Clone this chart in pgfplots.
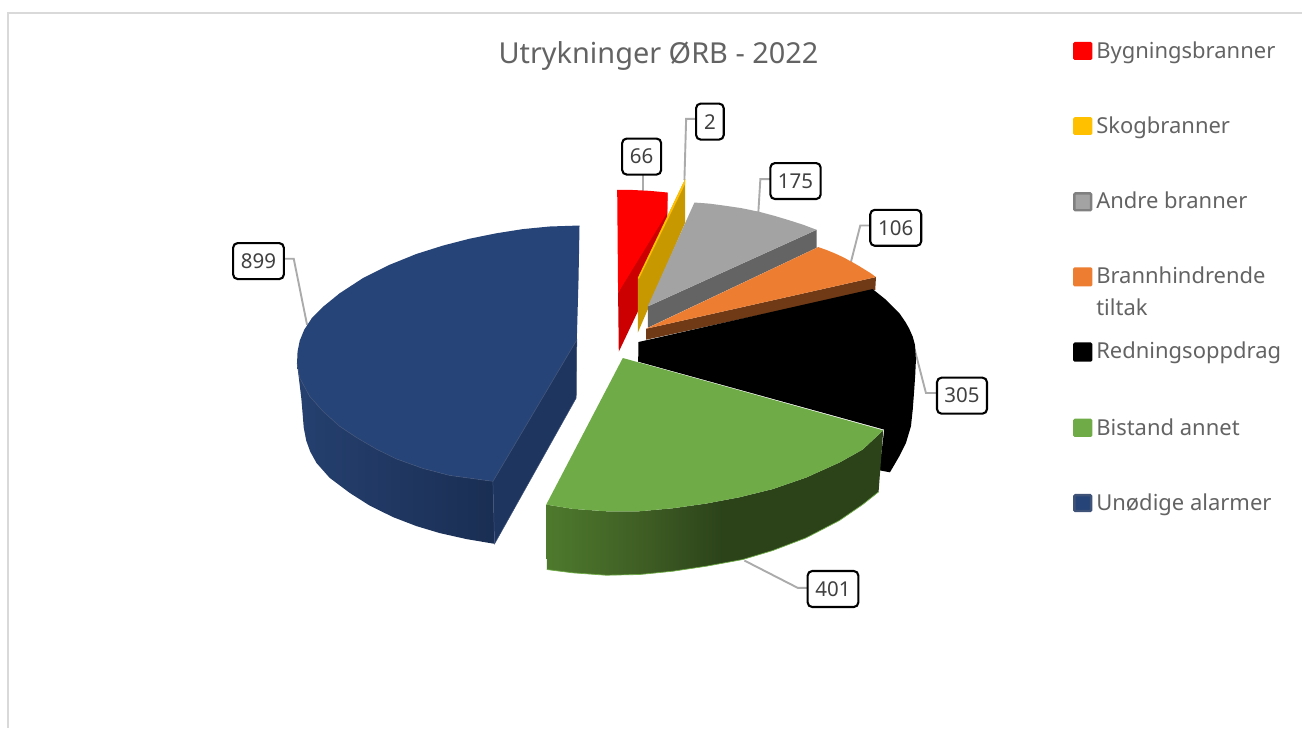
\documentclass[border=0pt]{standalone}
\usepackage{pgfplots}
\pgfplotsset{compat=1.18}
\usepackage{fontspec}
\setmainfont{Noto Sans}
\definecolor{txt}{HTML}{636363}
\definecolor{frame}{HTML}{D9D9D9}
\definecolor{lead}{HTML}{ABABAB}
\definecolor{cRed}{HTML}{FF0000}
\definecolor{cRedD}{HTML}{CC0000}
\definecolor{cYel}{HTML}{FFC000}
\definecolor{cYelD}{HTML}{C89800}
\definecolor{cGry}{HTML}{A3A3A3}
\definecolor{cGryD}{HTML}{646464}
\definecolor{cOra}{HTML}{ED7D31}
\definecolor{cOraD}{HTML}{713A16}
\definecolor{cGrn}{HTML}{6FAC47}
\definecolor{cGrnL}{HTML}{4E7A2D}
\definecolor{cGrnM}{HTML}{3F5E24}
\definecolor{cGrnD}{HTML}{2C431A}
\definecolor{cBlu}{HTML}{264478}
\definecolor{cBluL}{HTML}{25406F}
\definecolor{cBluD}{HTML}{1A2E53}
\definecolor{cBluC}{HTML}{1D355F}
\definecolor{cBluE}{HTML}{3F5278}
\pgfdeclarehorizontalshading{grnside}{100bp}{color(0bp)=(cGrnL); color(25bp)=(cGrnL); color(39bp)=(cGrnM); color(51bp)=(cGrnD); color(100bp)=(cGrnD)}
\tikzset{
  val/.style={draw=black,fill=white,line width=2.1bp,rounded corners=4.5bp,inner sep=0pt,
    minimum height=36bp,text=black!75,font=\fontsize{20.5bp}{23bp}\selectfont},
  leg/.style={anchor=base west,inner sep=0pt,text=txt,font=\fontsize{22bp}{24bp}\selectfont},
  ldr/.style={draw=lead,line width=1.9bp},
}
\begin{document}
\begin{tikzpicture}
\begin{axis}[scale only axis,width=1303bp,height=729bp,xmin=0,xmax=1303,ymin=0,ymax=729,
  y dir=reverse,hide axis,clip=false]
% frame
\addplot[draw=frame,line width=2.2bp] coordinates {(8.3,729) (8.3,13.3) (1303,13.3)};
% leader lines
\addplot[ldr] coordinates {(643.3,175) (643.3,192)};
\addplot[ldr] coordinates {(696.7,119) (686.7,119) (685,180)};
\addplot[ldr] coordinates {(771,179.3) (761,179.3) (759,212)};
\addplot[ldr] coordinates {(871,225.7) (861,225.7) (851.7,262)};
\addplot[ldr] coordinates {(915,348) (926.7,393.3) (938,393.3)};
\addplot[ldr] coordinates {(745,561) (798.3,588.3) (808.3,588.3)};
\addplot[ldr] coordinates {(284,259) (294,259) (307.3,325)};
% Bygningsbranner
\addplot[fill=cRedD,draw=none] coordinates {(668,193) (667.7,250) (619.3,352) (618.6,293)} --cycle;
\addplot[fill=cRed,draw=none] coordinates {(617.7,190) (630,190) (650,191) (668.3,192.7) (667.7,213) (618.6,293)} --cycle;
% Skogbranner
\addplot[fill=cYelD,draw=none] coordinates {(685.7,179.3) (685.7,223) (638.3,333) (638.3,278.3)} --cycle;
\addplot[fill=cYel,draw=none] coordinates {(685.7,179.3) (685.7,184) (639.5,279) (638.3,278.3)} --cycle;
% Andre branner
\addplot[fill=cGryD,draw=none] coordinates {(817.3,230) (817.3,248) (648.3,328) (648.3,306.7)} --cycle;
\addplot[fill=cGry,draw=none] coordinates {(695,202.7) (710,203.8) (725,205.8) (742,208.3) (760,212) (775,216) (790,220.5) (804,225) (817.3,230) (648.3,306.7)} --cycle;
% Brannhindrende tiltak
\addplot[fill=cOraD,draw=none] coordinates {(876.7,277.3) (876,290) (646.7,340) (646.7,329)} --cycle;
\addplot[fill=cOra,draw=none] coordinates {(819,247.3) (828,250.5) (836,253.8) (844,257.5) (851.7,261.7) (858.5,265.5) (865,269.5) (871,273.2) (876.7,277.3) (646.7,329)} --cycle;
% Redningsoppdrag
\addplot[fill=black,draw=none] coordinates {(639,342.3) (873.3,289.3) (886.7,300) (900,313.3) (906,322) (910,329) (913.5,337) (915.7,345) (916.7,360) (916,375) (915,390) (913.5,410) (911.7,426.7) (906.7,443.3) (900,456.7) (890.7,472.7) (880,470.7) (885,430) (638.7,362)} --cycle;
% Bistand annet
\addplot[shade,shading=grnside,draw=none] coordinates {(546.7,505) (573.3,509.3) (606.7,511.7) (640,511.7) (673.3,508.7) (706.7,504) (740,497.7) (773.3,489.5) (806.7,478) (840,463) (863.3,450) (884,430.7) (879.3,492.3) (863.3,505) (840,521) (806.7,538.3) (773.3,551) (743.3,560) (706.7,566.7) (673.3,571.7) (640,575) (606.7,575.7) (573.3,573.3) (547.3,570)} --cycle;
\addplot[draw=cGrn,line width=.7bp] coordinates {(879.3,492.3) (863.3,505) (840,521) (806.7,538.3) (773.3,551) (743.3,560) (706.7,566.7) (673.3,571.7) (640,575) (606.7,575.7) (573.3,573.3) (547.3,570)};
\addplot[fill=cGrn,draw=none] coordinates {(623.3,358.3) (884,430.7) (863.3,450) (840,463) (806.7,478) (773.3,489.5) (740,497.7) (706.7,504) (673.3,508.7) (640,511.7) (606.7,511.7) (573.3,509.3) (546.7,505)} --cycle;
% Unodige alarmer
\addplot[left color=cBluL,right color=cBluD,draw=none] coordinates {(297.3,363.3) (300,378.3) (310,396.7) (323.3,411.7) (340,426.7) (356.7,437.8) (376.7,449.5) (396.7,459.3) (423.3,468.8) (450,475.8) (493.3,481.7) (495,544.3) (466.7,539.5) (440,533.5) (416.7,526.5) (393.3,517.5) (370,506) (350,493.3) (330,478.3) (316.7,463.3) (310.5,452) (306.5,441) (304,428) (301.7,400)} --cycle;
\addplot[fill=cBluC,draw=cBluE,line width=.5bp] coordinates {(493.3,481.7) (577.3,340) (576.7,398.3) (495,544.3)} --cycle;
\addplot[fill=cBlu,draw=none] coordinates {(580,225.7) (550,226.7) (523.3,229.3) (496.7,233.5) (470,238.9) (443.3,245.8) (416.7,254.2) (390,265) (363.3,278.3) (340,293.5) (324,306.5) (312,318.5) (304.5,330) (300,341) (297.8,352) (297.3,363.3) (300,378.3) (310,396.7) (323.3,411.7) (340,426.7) (356.7,437.8) (376.7,449.5) (396.7,459.3) (423.3,468.8) (450,475.8) (493.3,481.7) (577.3,340) (579,280)} --cycle;
\addplot[draw=cBluE,line width=.6bp] coordinates {(297.3,363.3) (300,378.3) (310,396.7) (323.3,411.7) (340,426.7) (356.7,437.8) (376.7,449.5) (396.7,459.3) (423.3,468.8) (450,475.8) (493.3,481.7) (577.3,340)};
% legend swatches
\addplot[fill=cRed,draw=none,rounded corners=1.5bp] coordinates {(1074,42) (1093.3,42) (1093.3,60) (1074,60)} --cycle;
\addplot[fill=cYel,draw=none,rounded corners=1.5bp] coordinates {(1074,117.3) (1093.3,117.3) (1093.3,135) (1074,135)} --cycle;
\addplot[fill=cGry,draw=black!50,line width=2.4bp,rounded corners=1bp] coordinates {(1075.3,193.6) (1092,193.6) (1092,210.4) (1075.3,210.4)} --cycle;
\addplot[fill=cOra,draw=none,rounded corners=1.5bp] coordinates {(1074,267.5) (1093.3,267.5) (1093.3,286.7) (1074,286.7)} --cycle;
\addplot[fill=black,draw=none,rounded corners=1.5bp] coordinates {(1074,342.7) (1093.3,342.7) (1093.3,362) (1074,362)} --cycle;
\addplot[fill=cGrn,draw=none,rounded corners=1.5bp] coordinates {(1074,419) (1093.3,419) (1093.3,437.3) (1074,437.3)} --cycle;
\addplot[fill=cBlu,draw=cBluE,line width=2.4bp,rounded corners=1bp] coordinates {(1075.3,495.6) (1092,495.6) (1092,511.4) (1075.3,511.4)} --cycle;
% legend text
\node[leg] at (axis cs:1097,58.3) {Bygningsbranner};
\node[leg] at (axis cs:1097,134) {Skogbranner};
\node[leg] at (axis cs:1097,209) {Andre branner};
\node[leg] at (axis cs:1097,284) {Brannhindrende};
\node[leg] at (axis cs:1097,315.7) {tiltak};
\node[leg] at (axis cs:1097,359) {Redningsoppdrag};
\node[leg] at (axis cs:1097,435.7) {Bistand annet};
\node[leg] at (axis cs:1097,511) {Unødige alarmer};
% title
\node[anchor=base,inner sep=0pt,text=txt,font=\fontsize{28.9bp}{31bp}\selectfont] at (axis cs:659,64) {Utrykninger ØRB - 2022};
% value labels
\node[val,minimum width=39bp] at (axis cs:642.2,156.7) {66};
\node[val,minimum width=27.6bp] at (axis cs:710.5,121.7) {2};
\node[val,minimum width=50.3bp] at (axis cs:796.2,181.2) {175};
\node[val,minimum width=51bp] at (axis cs:896.5,228) {106};
\node[val,minimum width=50bp] at (axis cs:962.8,396) {305};
\node[val,minimum width=50.7bp] at (axis cs:833.7,589.5) {401};
\node[val,minimum width=50.7bp] at (axis cs:258.7,261.3) {899};
\end{axis}
\path (0,0) rectangle (1303bp,729bp);
\end{tikzpicture}
\end{document}
